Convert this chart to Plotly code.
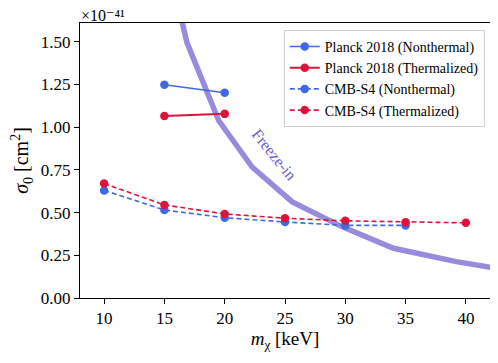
import plotly.graph_objects as go

# sigma_0 in units of 1e-41 cm^2, masses in keV
planck_nt_m = [15, 20]
planck_nt_sigma = [1.248, 1.202]
planck_th_m = [15, 20]
planck_th_sigma = [1.066, 1.078]

s4_nt_m = [10, 15, 20, 25, 30, 35]
s4_nt_sigma = [0.630, 0.515, 0.470, 0.445, 0.425, 0.425]
s4_th_m = [10, 15, 20, 25, 30, 35, 40]
s4_th_sigma = [0.670, 0.545, 0.492, 0.467, 0.452, 0.444, 0.440]

freeze_m = [14.7, 16.87, 19.5, 22.27, 25.6, 29.8, 34.0, 39.2, 45.0]
freeze_sigma = [2.14, 1.495, 1.039, 0.767, 0.563, 0.415, 0.291, 0.213, 0.145]

BLUE = "#4169E1"
RED = "#DC143C"
FONT = "Liberation Serif, DejaVu Serif, serif"

fig = go.Figure()

fig.add_trace(go.Scatter(
    x=freeze_m, y=freeze_sigma, mode="lines",
    line=dict(color="rgba(106,90,205,0.7)", width=5.5),
    showlegend=False, hoverinfo="skip"))

fig.add_trace(go.Scatter(
    x=planck_nt_m, y=planck_nt_sigma, mode="lines+markers",
    name="Planck 2018 (Nonthermal)",
    line=dict(color=BLUE, width=1.6), marker=dict(color=BLUE, size=8.5)))
fig.add_trace(go.Scatter(
    x=planck_th_m, y=planck_th_sigma, mode="lines+markers",
    name="Planck 2018 (Thermalized)",
    line=dict(color=RED, width=2), marker=dict(color=RED, size=8.5)))
fig.add_trace(go.Scatter(
    x=s4_nt_m, y=s4_nt_sigma, mode="lines+markers",
    name="CMB-S4 (Nonthermal)",
    line=dict(color=BLUE, width=1.6, dash="5px,3px"), marker=dict(color=BLUE, size=8.5)))
fig.add_trace(go.Scatter(
    x=s4_th_m, y=s4_th_sigma, mode="lines+markers",
    name="CMB-S4 (Thermalized)",
    line=dict(color=RED, width=1.6, dash="5px,3px"), marker=dict(color=RED, size=8.5)))

fig.add_annotation(
    x=24.1, y=0.84, text="Freeze-in", showarrow=False, textangle=51,
    font=dict(family=FONT, size=16, color="#6A5ACD"))

# offset text of the y axis, kept on one line so it fits above the plot
fig.add_annotation(
    x=0, y=1, xref="paper", yref="paper", xanchor="left", yanchor="bottom",
    text="×10⁻⁴¹", showarrow=False, yshift=-2, borderpad=0,
    font=dict(family=FONT, size=16, color="black"))

axis_common = dict(
    showgrid=False, zeroline=False, showline=True, linecolor="black",
    linewidth=1, mirror=True, ticks="outside", ticklen=5, tickcolor="black",
    automargin=False,
    tickfont=dict(family=FONT, size=17, color="black"))

fig.update_xaxes(range=[8, 42], tickvals=[10, 15, 20, 25, 30, 35, 40],
                 title=dict(text="<i>m</i><sub>χ</sub> [keV]", standoff=2,
                            font=dict(family=FONT, size=19, color="black")),
                 **axis_common)
fig.update_yaxes(range=[0, 1.61], tickvals=[0, 0.25, 0.5, 0.75, 1.0, 1.25, 1.5],
                 tickformat=".2f",
                 title=dict(text="<i>σ</i><sub>0</sub> [cm<sup>2</sup>]", standoff=6,
                            font=dict(family=FONT, size=20, color="black")),
                 **axis_common)

# the page body adds an 8px margin, so the figure is sized to fit the window
fig.update_layout(
    width=490, height=355,
    margin=dict(l=72, r=8, t=15, b=65),
    plot_bgcolor="white", paper_bgcolor="white",
    font=dict(family=FONT, color="black"),
    legend=dict(x=0.497, y=0.975, xanchor="left", yanchor="top",
                bgcolor="white", bordercolor="#d0d0d0", borderwidth=1,
                font=dict(family=FONT, size=14, color="black"),
                tracegroupgap=0, itemwidth=30),
)

fig.write_html("out.html")
